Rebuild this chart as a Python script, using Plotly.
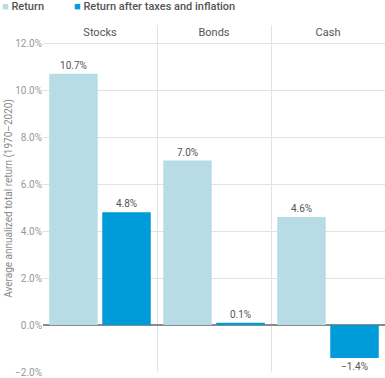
import plotly.graph_objects as go

categories = ["Stocks", "Bonds", "Cash"]
series_names = ["Return", "Return after taxes and inflation"]
returns = [10.7, 7.0, 4.6]
after_tax = [4.8, 0.1, -1.4]
series_colors = ["#b8dce5", "#009bd9"]
y_ticks = [-2, 0, 2, 4, 6, 8, 10, 12]
y_title = "Average annualized total return (1970\u20132020)"

FONT = "Roboto, Arial, sans-serif"

def fmt(v):
    s = f"{v:.1f}%"
    return s.replace("-", "\u2212")

fig = go.Figure()
for name, vals, col in zip(series_names, [returns, after_tax], series_colors):
    fig.add_trace(go.Bar(
        x=categories, y=vals, name=name, marker_color=col,
        marker_line_width=0,
        text=[fmt(v) for v in vals], textposition="outside",
        textfont=dict(size=10, color="#555555", family=FONT),
        cliponaxis=False, showlegend=False,
    ))

# legend drawn as annotations (tight square + label)
leg_x = [-0.126, 0.085]
for name, col, lx in zip(series_names, series_colors, leg_x):
    fig.add_annotation(
        xref="paper", yref="paper", x=lx, y=1.054, xanchor="left", yanchor="middle",
        text=f'<span style="color:{col}">\u25A0</span> {name}', showarrow=False,
        font=dict(size=11, color="#555555", family=FONT, weight=500),
    )

fig.update_layout(
    width=385, height=378,
    margin=dict(l=43, r=0, t=25, b=6, autoexpand=False),
    paper_bgcolor="white", plot_bgcolor="white",
    barmode="group", bargap=0.07, bargroupgap=0.085,
    font=dict(family=FONT),
)
fig.update_xaxes(
    side="top", ticklabelposition="inside", ticks="",
    tickson="boundaries", showgrid=True, gridcolor="#e2e2e2", gridwidth=1,
    tickfont=dict(size=11, color="#555555", family=FONT),
    showline=False, zeroline=False, automargin=False,
)
fig.update_yaxes(
    range=[-2, 12.77], tickvals=y_ticks, ticktext=[fmt(v) for v in y_ticks],
    showgrid=True, gridcolor="#e2e2e2", gridwidth=1,
    zeroline=True, zerolinecolor="#8a8a8a", zerolinewidth=2,
    tickfont=dict(size=10, color="#999999", family=FONT),
    ticks="", showline=False, automargin=False,
    title=dict(text=y_title, font=dict(size=10, color="#888888", family=FONT), standoff=0),
)

fig.write_html(
    "out.html",
    config={"displayModeBar": False},
    post_script="document.body.style.margin='0';document.body.style.overflow='hidden';",
)
